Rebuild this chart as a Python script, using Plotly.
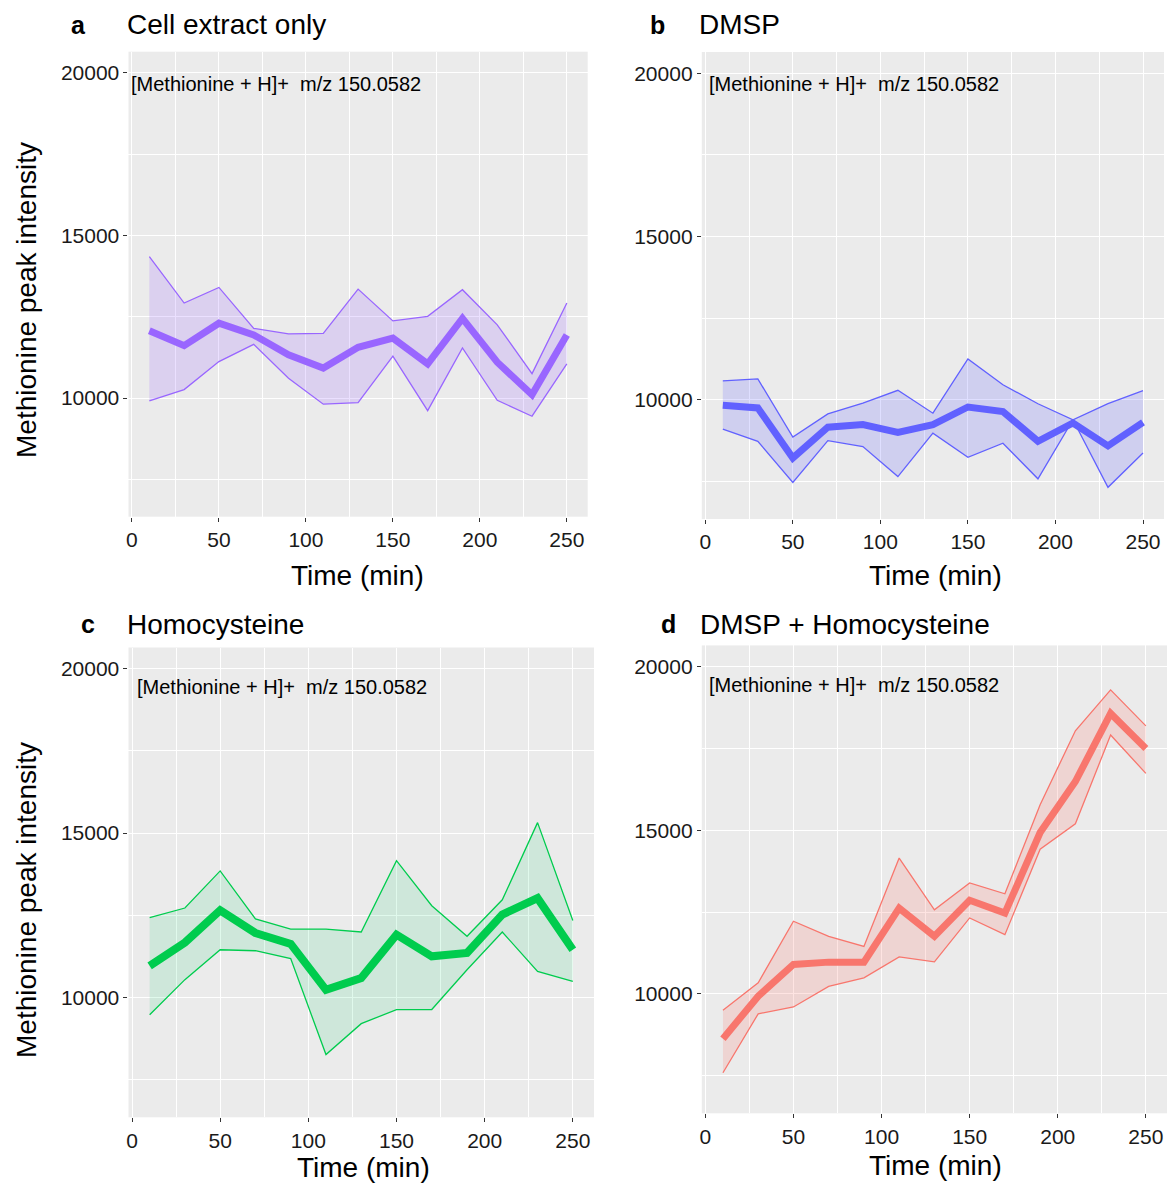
import plotly.graph_objects as go

# ---------------- data ----------------
time_min = [10, 30, 50, 70, 90, 110, 130, 150, 170, 190, 210, 230, 250]

a_mean = [12070, 11610, 12300, 11940, 11330, 10920, 11560, 11840, 11050, 12450, 11100, 10100, 11940]
a_upper = [14350, 12920, 13400, 12140, 11970, 11990, 13350, 12370, 12510, 13330, 12250, 10750, 12920]
a_lower = [9910, 10260, 11120, 11650, 10610, 9810, 9860, 11290, 9610, 11540, 9930, 9440, 11050]

b_mean = [9830, 9750, 8220, 9160, 9240, 9000, 9240, 9780, 9640, 8730, 9290, 8590, 9310]
b_upper = [10580, 10640, 8860, 9570, 9900, 10290, 9590, 11250, 10460, 9880, 9390, 9880, 10280]
b_lower = [9100, 8730, 7470, 8750, 8570, 7650, 8980, 8240, 8670, 7580, 9390, 7320, 8370]

c_mean = [10960, 11670, 12650, 11960, 11630, 10230, 10590, 11910, 11250, 11350, 12520, 13020, 11450]
c_upper = [12430, 12720, 13850, 12390, 12080, 12080, 11990, 14160, 12790, 11860, 12970, 15320, 12340]
c_lower = [9470, 10540, 11450, 11420, 11180, 8260, 9200, 9630, 9630, 10840, 11990, 10790, 10490]

d_mean = [8630, 9930, 10900, 10970, 10970, 12620, 11760, 12860, 12470, 14930, 16490, 18570, 17500]
d_upper = [9500, 10340, 12220, 11760, 11450, 14150, 12570, 13390, 13060, 15780, 18040, 19290, 18190]
d_lower = [7590, 9390, 9600, 10230, 10490, 11130, 10980, 12320, 11810, 14420, 15200, 17910, 16740]

panel_letters = ["a", "b", "c", "d"]
panel_titles = ["Cell extract only", "DMSP", "Homocysteine", "DMSP + Homocysteine"]
label_text = "[Methionine + H]+  m/z 150.0582"
x_title = "Time (min)"
y_title = "Methionine peak intensity"
x_ticks = [0, 50, 100, 150, 200, 250]
x_ticklabels = ["0", "50", "100", "150", "200", "250"]
y_ticks = [10000, 15000, 20000]
y_ticklabels = ["10000", "15000", "20000"]

colors = ["#9966FF", "#6161FF", "#00CC4E", "#F8766D"]
fills = ["rgba(153,102,255,0.2)", "rgba(97,97,255,0.2)", "rgba(0,204,102,0.12)", "rgba(248,118,109,0.2)"]
mean_widths = [7, 7, 8, 7]

series = [
    (a_mean, a_upper, a_lower),
    (b_mean, b_upper, b_lower),
    (c_mean, c_upper, c_lower),
    (d_mean, d_upper, d_lower),
]

# ---------------- layout helpers ----------------
W, H = 1169, 1185
FONT = "Liberation Sans, Arial, sans-serif"


def px(x):
    return x / W


def py(y):
    return 1 - y / H


# pixel boxes: (left, right, top, bottom)
boxes = [
    (126.7, 586.7, 51.7, 516.7),
    (701.0, 1164.0, 52.0, 519.0),
    (126.7, 593.0, 647.5, 1117.3),
    (701.0, 1167.0, 645.4, 1113.3),
]

fig = go.Figure()

for i, (mean, upper, lower) in enumerate(series):
    n = "" if i == 0 else str(i + 1)
    xa, ya = "x" + n, "y" + n
    fig.add_trace(go.Scatter(x=time_min, y=lower, mode="lines",
                             line=dict(color=colors[i], width=1.3),
                             xaxis=xa, yaxis=ya, showlegend=False))
    fig.add_trace(go.Scatter(x=time_min, y=upper, mode="lines",
                             line=dict(color=colors[i], width=1.3),
                             fill="tonexty", fillcolor=fills[i],
                             xaxis=xa, yaxis=ya, showlegend=False))
    fig.add_trace(go.Scatter(x=time_min, y=mean, mode="lines",
                             line=dict(color=colors[i], width=mean_widths[i]),
                             xaxis=xa, yaxis=ya, showlegend=False))

    l, r, t, b = boxes[i]
    axis_common = dict(
        showgrid=True, gridcolor="white", gridwidth=1.4,
        zeroline=False, showline=False,
        ticks="outside", ticklen=4, tickwidth=1.2, tickcolor="#333333",
        tickfont=dict(family=FONT, size=21, color="#1a1a1a"),
    )
    fig.layout["xaxis" + n] = dict(
        domain=[px(l), px(r)], anchor=ya, range=[-2, 262],
        tickvals=x_ticks, ticktext=x_ticklabels,
        minor=dict(tickvals=[25, 75, 125, 175, 225], showgrid=True,
                   gridcolor="white", gridwidth=0.7, ticks=""),
        **axis_common,
    )
    fig.layout["yaxis" + n] = dict(
        domain=[py(b), py(t)], anchor=xa, range=[6350, 20650],
        tickvals=y_ticks, ticktext=y_ticklabels,
        minor=dict(tickvals=[7500, 12500, 17500], showgrid=True,
                   gridcolor="white", gridwidth=0.7, ticks=""),
        **axis_common,
    )

annotations = []
# panel letters and titles
letter_pos = [(77, 25), (657, 25), (86, 624), (668, 624)]
title_pos = [(123, 25), (696, 25), (123, 624), (697, 624)]
for i in range(4):
    annotations.append(dict(text="<b>" + panel_letters[i] + "</b>", x=px(letter_pos[i][0]), y=py(letter_pos[i][1]),
                            xref="paper", yref="paper", xanchor="center", yanchor="middle",
                            showarrow=False, font=dict(family=FONT, size=25, color="black")))
    annotations.append(dict(text=panel_titles[i], x=px(title_pos[i][0]), y=py(title_pos[i][1]),
                            xref="paper", yref="paper", xanchor="left", yanchor="middle",
                            showarrow=False, font=dict(family=FONT, size=28, color="black")))

# ion label inside panels
label_pos = [(127, 84), (706, 84), (133, 687), (706, 685)]
for i in range(4):
    annotations.append(dict(text=label_text, x=px(label_pos[i][0]), y=py(label_pos[i][1]),
                            xref="paper", yref="paper", xanchor="left", yanchor="middle",
                            showarrow=False, font=dict(family=FONT, size=20, color="black")))

# axis titles
xt_pos = [(356, 576), (935, 576), (362, 1167), (935, 1165)]
for (x, y) in xt_pos:
    annotations.append(dict(text=x_title, x=px(x), y=py(y), xref="paper", yref="paper",
                            xanchor="center", yanchor="middle", showarrow=False,
                            font=dict(family=FONT, size=28, color="black")))
for y in (300, 900):
    annotations.append(dict(text=y_title, x=px(24), y=py(y), xref="paper", yref="paper",
                            xanchor="center", yanchor="middle", textangle=-90, showarrow=False,
                            font=dict(family=FONT, size=28, color="black")))

fig.update_layout(
    width=W, height=H,
    margin=dict(l=0, r=0, t=0, b=0),
    paper_bgcolor="white", plot_bgcolor="#EBEBEB",
    annotations=annotations,
    font=dict(family=FONT),
)

fig.write_html("out.html")
